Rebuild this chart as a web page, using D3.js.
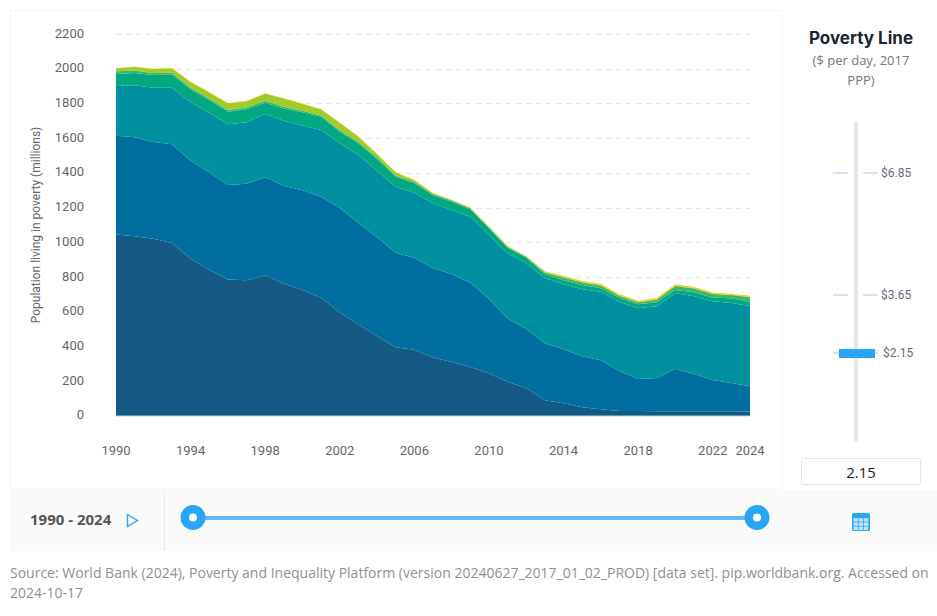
<!DOCTYPE html>
<html><head><meta charset="utf-8">
<script src="https://cdn.jsdelivr.net/npm/d3@7/dist/d3.min.js"></script>
<style>html,body{margin:0;padding:0;background:#fff}svg{display:block}</style>
</head><body><svg id="c" width="937" height="616"></svg>
<script>
const years = d3.range(1990, 2025);
const xTickYears = [1990,1994,1998,2002,2006,2010,2014,2018,2022,2024];
const yTicks = d3.range(0, 2201, 200);
const band1 = [1045,1035,1020,995,905,840,785,780,810,760,725,680,595,525,460,395,380,335,310,280,245,195,160,89,72,49,37,27,27,26,26,26,25,25,24];
const band2 = [569,570,557,570,565,563,544,557,565,565,575,582,602,585,569,544,530,515,506,486,427,365,340,329,311,294,283,230,185,192,244,215,181,164,146];
const band3 = [286,300,313,325,338,342,351,355,364,375,372,384,373,392,383,379,375,375,369,381,368,376,378,375,375,386,394,399,408,413,436,448,454,461,463];
const band4 = [70,70,74,76,74,75,72,75,65,71,77,77,67,69,67,59,55,46,48,43,40,32,34,22,23,24,21,22,23,23,19,22,20,27,24];
const band5 = [15,15,11,11,8,8,10,9,11,9,8,7,8,7,9,8,8,7,7,5,5,4,3,10,16,15,15,12,11,14,23,22,22,18,26];
const band6 = [17,20,23,26,33,35,39,36,40,48,40,35,42,29,19,17,8,4,2,2,2,5,2,3,3,3,3,4,3,3,3,3,2,2,2];
const band7 = [1,2,2,2,2,2,2,3,3,2,3,3,3,3,3,3,4,3,3,3,3,3,3,4,6,6,7,6,5,7,6,6,6,6,7];
const bands = [band1,band2,band3,band4,band5,band6,band7];
const bandColors = ["#155a85","#006fa0","#01909f","#01a982","#3cb86a","#9fcb2b","#fcc800"];
const povertyLines = [6.85,3.65,2.15];
const povertyY = [173,295,353];

const svg = d3.select("#c");
const FONT = "Roboto, sans-serif", OS = "'Open Sans', sans-serif";
const x = d3.scaleLinear().domain([1990,2024]).range([116,750]);
const y = d3.scaleLinear().domain([0,2200]).range([415.7,34]);

// panels
svg.append("rect").attr("x",10.5).attr("y",10.5).attr("width",772).attr("height",478).attr("fill","#fff").attr("stroke","#f5f5f5");
svg.append("rect").attr("x",10).attr("y",490).attr("width",927).attr("height",61).attr("fill","#fafafa");
svg.append("line").attr("x1",164.5).attr("x2",164.5).attr("y1",490).attr("y2",551).attr("stroke","#e6ebf0");

// grid
svg.append("g").selectAll("line").data(yTicks.filter(d=>d>0)).join("line")
  .attr("x1",116).attr("x2",750).attr("y1",d=>Math.round(y(d))+.5).attr("y2",d=>Math.round(y(d))+.5)
  .attr("stroke","#e3e3e3").attr("stroke-dasharray","5 5");

// areas
const rows = years.map((yr,i)=>{const r={year:yr};bands.forEach((b,k)=>r["b"+k]=b[i]);return r;});
const stack = d3.stack().keys(bands.map((b,k)=>"b"+k))(rows);
const area = d3.area().x(d=>x(d.data.year)).y0(d=>y(d[0])).y1(d=>y(d[1]));
svg.append("g").selectAll("path").data(stack).join("path")
  .attr("d",area).attr("fill",(d,i)=>bandColors[i]);
svg.append("line").attr("x1",116).attr("x2",750).attr("y1",416).attr("y2",416).attr("stroke","#8cc9b4").attr("stroke-width",.6);

// axes
const ya = svg.append("g").attr("transform","translate(84,-1)").call(d3.axisLeft(y).tickValues(yTicks).tickSize(0).tickPadding(0).tickFormat(d3.format("d")));
ya.select(".domain").remove();
ya.selectAll("text").attr("font-family",FONT).attr("font-size",13).attr("fill","#666");
const xa = svg.append("g").attr("transform","translate(-0.5,446)").call(d3.axisBottom(x).tickValues(xTickYears).tickSize(0).tickPadding(0).tickFormat(d3.format("d")));
xa.select(".domain").remove();
xa.selectAll("text").attr("font-family",FONT).attr("font-size",13).attr("fill","#666");
svg.append("text").attr("transform","translate(40,225) rotate(-90)").attr("text-anchor","middle")
  .attr("font-family",FONT).attr("font-size",12).attr("fill","#666").text("Population living in poverty (millions)");

// poverty-line panel
svg.append("text").attr("x",861).attr("y",43.5).attr("text-anchor","middle").attr("font-family","Inter, sans-serif").attr("font-weight",700).attr("font-size",17).attr("fill","#1a2530").text("Poverty Line");
svg.append("text").attr("x",861).attr("y",65).attr("text-anchor","middle").attr("font-family",OS).attr("font-size",13).attr("fill","#777").text("($ per day, 2017");
svg.append("text").attr("x",861).attr("y",85).attr("text-anchor","middle").attr("font-family",OS).attr("font-size",13).attr("fill","#777").text("PPP)");
svg.append("rect").attr("x",854).attr("y",121).attr("width",4).attr("height",321).attr("rx",2).attr("fill","#e4e8ea");
const pl = svg.append("g").selectAll("g").data(povertyLines).join("g").attr("transform",(d,i)=>`translate(0,${povertyY[i]})`);
pl.append("line").attr("x1",833).attr("x2",848).attr("stroke","#d6e1f2").attr("stroke-width",2);
pl.append("line").attr("x1",863).attr("x2",878).attr("stroke","#d6e1f2").attr("stroke-width",2);
pl.append("text").attr("x",(d,i)=>i==2?883:881).attr("y",4).attr("font-family",FONT).attr("font-size",12).attr("fill","#5f6b7a").text(d=>"$"+d3.format(".2f")(d));
svg.append("rect").attr("x",839).attr("y",349).attr("width",36).attr("height",9).attr("fill","#27a6f5");
svg.append("rect").attr("x",801.5).attr("y",458.5).attr("width",119).attr("height",26).attr("rx",1.5).attr("fill","#fff").attr("stroke","#e2e6ea");
svg.append("text").attr("x",861).attr("y",478).attr("text-anchor","middle").attr("font-family",OS).attr("font-size",15).attr("fill","#222").text("2.15");

// timeline
svg.append("text").attr("x",30).attr("y",525).attr("font-family",OS).attr("font-weight",700).attr("font-size",15).attr("fill","#555").text("1990 - 2024");
svg.append("path").attr("d","M127.5 514.5 L137.5 520.5 L127.5 526.5 Z").attr("fill","none").attr("stroke","#2aa5f5").attr("stroke-width",1.4);
svg.append("line").attr("x1",193).attr("x2",757).attr("y1",518).attr("y2",518).attr("stroke","#64b9f0").attr("stroke-width",4);
[193,757].forEach(cx=>{
  svg.append("circle").attr("cx",cx).attr("cy",517.5).attr("r",12.5).attr("fill","#27a6f5");
  svg.append("circle").attr("cx",cx).attr("cy",517.5).attr("r",4).attr("fill","#fff");
});
// table icon
const ti = svg.append("g").attr("transform","translate(852,513)");
ti.append("rect").attr("width",18).attr("height",18).attr("rx",1.5).attr("fill","#27a6f5");
for(let r=0;r<3;r++)for(let c=0;c<3;c++)
  ti.append("rect").attr("x",1.5+c*5.2).attr("y",5.2+r*4.2).attr("width",4.4).attr("height",3.4).attr("fill","#bfe3fb");

// source
const src = ["Source: World Bank (2024), Poverty and Inequality Platform (version 20240627_2017_01_02_PROD) [data set]. pip.worldbank.org. Accessed on","2024-10-17"];
svg.append("g").selectAll("text").data(src).join("text").attr("x",10).attr("y",(d,i)=>578+i*20)
  .attr("font-family",OS).attr("font-size",14).attr("fill","#909090").text(d=>d);
</script></body></html>
